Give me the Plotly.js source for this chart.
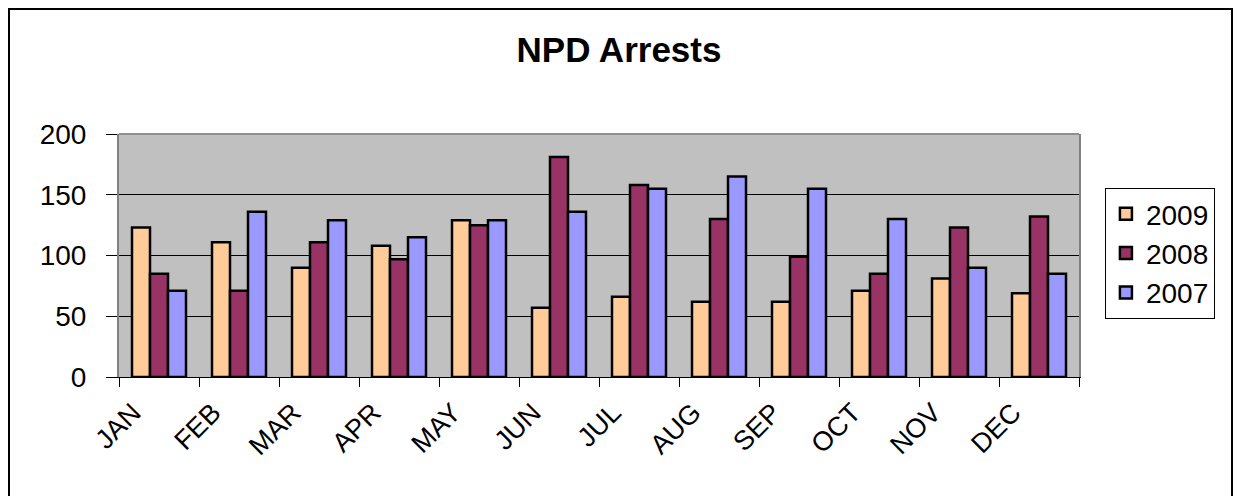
<!DOCTYPE html>
<html>
<head>
<meta charset="utf-8">
<script src="https://cdn.plot.ly/plotly-3.0.1.min.js"></script>
<style>
  html, body { margin: 0; padding: 0; background: #ffffff; }
  #frame { position: absolute; left: 8px; top: 8px; width: 1225px; height: 500px; border: 2px solid #000; box-sizing: border-box; }
  #chart { position: absolute; left: 0; top: 0; width: 1238px; height: 496px; }
</style>
</head>
<body>
<div id="frame"></div>
<div id="chart"></div>
<script>
const months = ["JAN","FEB","MAR","APR","MAY","JUN","JUL","AUG","SEP","OCT","NOV","DEC"];
const arrests2009 = [123, 111, 90, 108, 129, 57, 66, 62, 62, 71, 81, 69];
const arrests2008 = [85, 71, 111, 97, 125, 181, 158, 130, 99, 85, 123, 132];
const arrests2007 = [71, 136, 129, 115, 129, 136, 155, 165, 155, 130, 90, 85];
const yTicks = [0, 50, 100, 150, 200];

const font = "Liberation Sans, Arial, sans-serif";
const barLine = {color: "#000000", width: 2.5};

const traces = [
  {type: "bar", name: "2009", x: months, y: arrests2009, legendgroup: "a",
   marker: {color: "#FFCC99", line: barLine}},
  {type: "bar", name: "2008", x: months, y: arrests2008, legendgroup: "b",
   marker: {color: "#993366", line: barLine}},
  {type: "bar", name: "2007", x: months, y: arrests2007, legendgroup: "c",
   marker: {color: "#9999FF", line: barLine}}
];

const layout = {
  width: 1238, height: 496,
  paper_bgcolor: "rgba(0,0,0,0)",
  plot_bgcolor: "#C0C0C0",
  margin: {l: 119, r: 159, t: 134, b: 119, pad: 0},
  title: {text: "<b>NPD Arrests</b>", font: {family: font, size: 35, color: "#000"},
          x: 0.5, xref: "container", y: 0.9, yref: "container", yanchor: "middle"},
  barmode: "group", bargap: 0.325, bargroupgap: 0,
  showlegend: true,
  legend: {x: 1.027, xanchor: "left", y: 0.778, yanchor: "top",
           bgcolor: "#ffffff", bordercolor: "#000000", borderwidth: 1,
           font: {family: font, size: 28, color: "#000"},
           traceorder: "normal", tracegroupgap: 6, itemwidth: 30},
  xaxis: {type: "category", tickson: "boundaries", ticks: "outside", ticklen: 9,
          tickcolor: "#000", tickwidth: 1, tickangle: -45, ticklabelshift: -26, ticklabelstandoff: 8,
          showline: true, linecolor: "#000", linewidth: 1, showgrid: false,
          tickfont: {family: font, size: 27, color: "#000"}},
  yaxis: {range: [0, 200], tickvals: yTicks, ticktext: yTicks.map(String),
          ticks: "outside", ticklen: 11, tickcolor: "#000", tickwidth: 1, ticklabelstandoff: 14,
          showline: true, linecolor: "#808080", linewidth: 2, mirror: true,
          showgrid: true, gridcolor: "#000", gridwidth: 1, zeroline: false,
          tickfont: {family: font, size: 28, color: "#000"}},
  shapes: [
    {type: "line", xref: "paper", yref: "paper", x0: 0, x1: 1, y0: 1, y1: 1,
     line: {color: "#909090", width: 2}, layer: "above"}
  ]
};

Plotly.newPlot("chart", traces, layout, {displayModeBar: false, staticPlot: true});
</script>
</body>
</html>
